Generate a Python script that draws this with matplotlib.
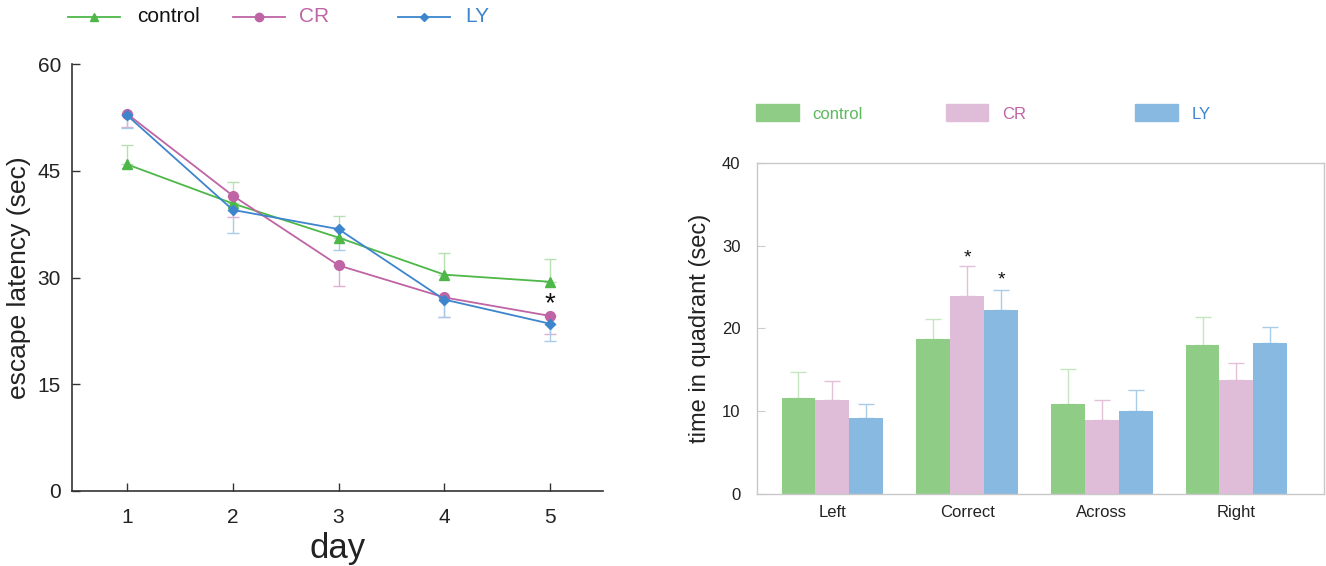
import matplotlib
matplotlib.use("Agg")
import matplotlib.pyplot as plt
from matplotlib.lines import Line2D
from matplotlib.patches import Rectangle
import numpy as np

plt.rcParams['font.family'] = ['Liberation Sans', 'DejaVu Sans']

# ---- data: escape latency (left panel) ----
days = [1, 2, 3, 4, 5]
control_lat = [45.9, 40.4, 35.6, 30.4, 29.4]
control_err = [2.7, 3.0, 3.1, 3.1, 3.2]      # upward
cr_lat = [53.0, 41.5, 31.7, 27.2, 24.6]
cr_err = [1.9, 3.0, 2.9, 2.8, 2.5]           # downward
ly_lat = [52.8, 39.5, 36.8, 26.9, 23.5]
ly_err = [1.8, 3.2, 2.9, 2.5, 2.4]           # downward
ytick_left = [0, 15, 30, 45, 60]

# ---- data: time in quadrant (right panel) ----
quadrants = ["Left", "Correct", "Across", "Right"]
control_q = [11.6, 18.7, 10.9, 18.0]
control_qerr = [3.2, 2.5, 4.2, 3.4]
cr_q = [11.3, 23.9, 8.9, 13.8]
cr_qerr = [2.4, 3.6, 2.5, 2.0]
ly_q = [9.2, 22.2, 10.0, 18.2]
ly_qerr = [1.7, 2.5, 2.6, 2.0]
ytick_right = [0, 10, 20, 30, 40]

labels = ["control", "CR", "LY"]
line_cols = ["#4db848", "#bf64a4", "#3d85cc"]
err_cols = ["#b7e0b2", "#dfb0d2", "#a8cbea"]
bar_cols = ["#8fcc86", "#dfbcd7", "#87b9e1"]
bar_err_cols = ["#c5e6c0", "#e3bfd8", "#a9cce9"]
markers = ["^", "o", "D"]
msizes = [7, 7, 5]

W, H = 1326, 566
fig = plt.figure(figsize=(W / 100, H / 100), dpi=100)

# ================= left panel =================
axL = fig.add_axes([72 / W, 1 - 491 / H, 531 / W, 427 / H])
series = [(control_lat, control_err, 1), (cr_lat, cr_err, -1), (ly_lat, ly_err, -1)]
for i, (vals, errs, sign) in enumerate(series):
    v = np.array(vals)
    e = np.array(errs)
    if sign > 0:
        yerr = [np.zeros_like(e), e]
    else:
        yerr = [e, np.zeros_like(e)]
    axL.errorbar(days, v, yerr=yerr, fmt='none', ecolor=err_cols[i], elinewidth=1,
                 capsize=4, capthick=1, zorder=2)
    axL.plot(days, v, color=line_cols[i], marker=markers[i], markersize=msizes[i],
             lw=1.3, zorder=3 + i)
axL.text(5, 26.2, "*", ha='center', va='center', fontsize=20, color='#111111')
axL.set_xlim(0.48, 5.5)
axL.set_ylim(0, 60)
axL.set_xticks(days)
axL.set_yticks(ytick_left)
axL.tick_params(direction='in', length=6, width=1, color='#333333', labelsize=15,
                labelcolor='#222222')
axL.tick_params(axis='x', pad=12)
axL.tick_params(axis='y', pad=8)
for s in ['top', 'right']:
    axL.spines[s].set_visible(False)
for s in ['left', 'bottom']:
    axL.spines[s].set_color('#333333')
    axL.spines[s].set_linewidth(1.2)
axL.set_ylabel("escape latency (sec)", fontsize=19, color='#222222', labelpad=5)
axL.set_xlabel("day", fontsize=25, color='#222222', labelpad=4)

# legend left (manual, figure coordinates)
leg_y = 1 - 17 / H
leg_pos = [(68, 120, 137), (233, 285, 299), (398, 450, 465)]
txt_cols = ["#111111", line_cols[1], line_cols[2]]
for i, (x0, x1, xt) in enumerate(leg_pos):
    fig.add_artist(Line2D([x0 / W, x1 / W], [leg_y, leg_y], color=line_cols[i], lw=1.3,
                          transform=fig.transFigure))
    fig.add_artist(Line2D([(x0 + x1) / 2 / W], [leg_y], color=line_cols[i],
                          marker=markers[i], markersize=msizes[i] - 1,
                          transform=fig.transFigure))
    fig.text(xt / W, leg_y, labels[i], fontsize=15, color=txt_cols[i], va='center', ha='left')

# ================= right panel =================
axR = fig.add_axes([757 / W, 1 - 494 / H, 567 / W, 331 / H])
x = np.arange(len(quadrants))
bw = 0.252
for i, (vals, errs) in enumerate([(control_q, control_qerr), (cr_q, cr_qerr), (ly_q, ly_qerr)]):
    pos = x + (i - 1) * bw
    axR.bar(pos, vals, width=bw, color=bar_cols[i], edgecolor='none', zorder=2)
    axR.errorbar(pos, vals, yerr=[np.zeros(len(vals)), errs], fmt='none',
                 ecolor=bar_err_cols[i], elinewidth=1, capsize=6, capthick=1, zorder=1)
axR.text(x[1], 28.5, "*", ha='center', va='center', fontsize=14, color='#111111')
axR.text(x[1] + bw, 25.9, "*", ha='center', va='center', fontsize=14, color='#111111')
axR.set_xlim(-0.56, 3.65)
axR.set_ylim(0, 40)
axR.set_xticks(x)
axR.set_xticklabels(quadrants)
axR.set_yticks(ytick_right)
axR.tick_params(axis='x', length=0, labelsize=12, labelcolor='#222222', pad=8)
axR.tick_params(axis='y', direction='in', length=6, color='#cccccc', labelsize=12,
                labelcolor='#222222', pad=12)
for s in axR.spines.values():
    s.set_color('#c8c8c8')
    s.set_linewidth(1)
axR.set_ylabel("time in quadrant (sec)", fontsize=17, color='#222222', labelpad=8)

# legend right (manual)
rleg_y0 = 1 - 121 / H
rleg_h = 17 / H
rpos = [(756, 799, 812), (946, 988, 1002), (1135, 1178, 1192)]
rtxt_cols = ["#5cb85c", "#bf64a4", "#3d85cc"]
for i, (x0, x1, xt) in enumerate(rpos):
    fig.add_artist(Rectangle((x0 / W, rleg_y0), (x1 - x0) / W, rleg_h, color=bar_cols[i],
                             transform=fig.transFigure))
    fig.text(xt / W, rleg_y0 + rleg_h / 2 - 2 / H, labels[i], fontsize=12, color=rtxt_cols[i],
             va='center', ha='left')

fig.savefig("out.png", dpi=100)
